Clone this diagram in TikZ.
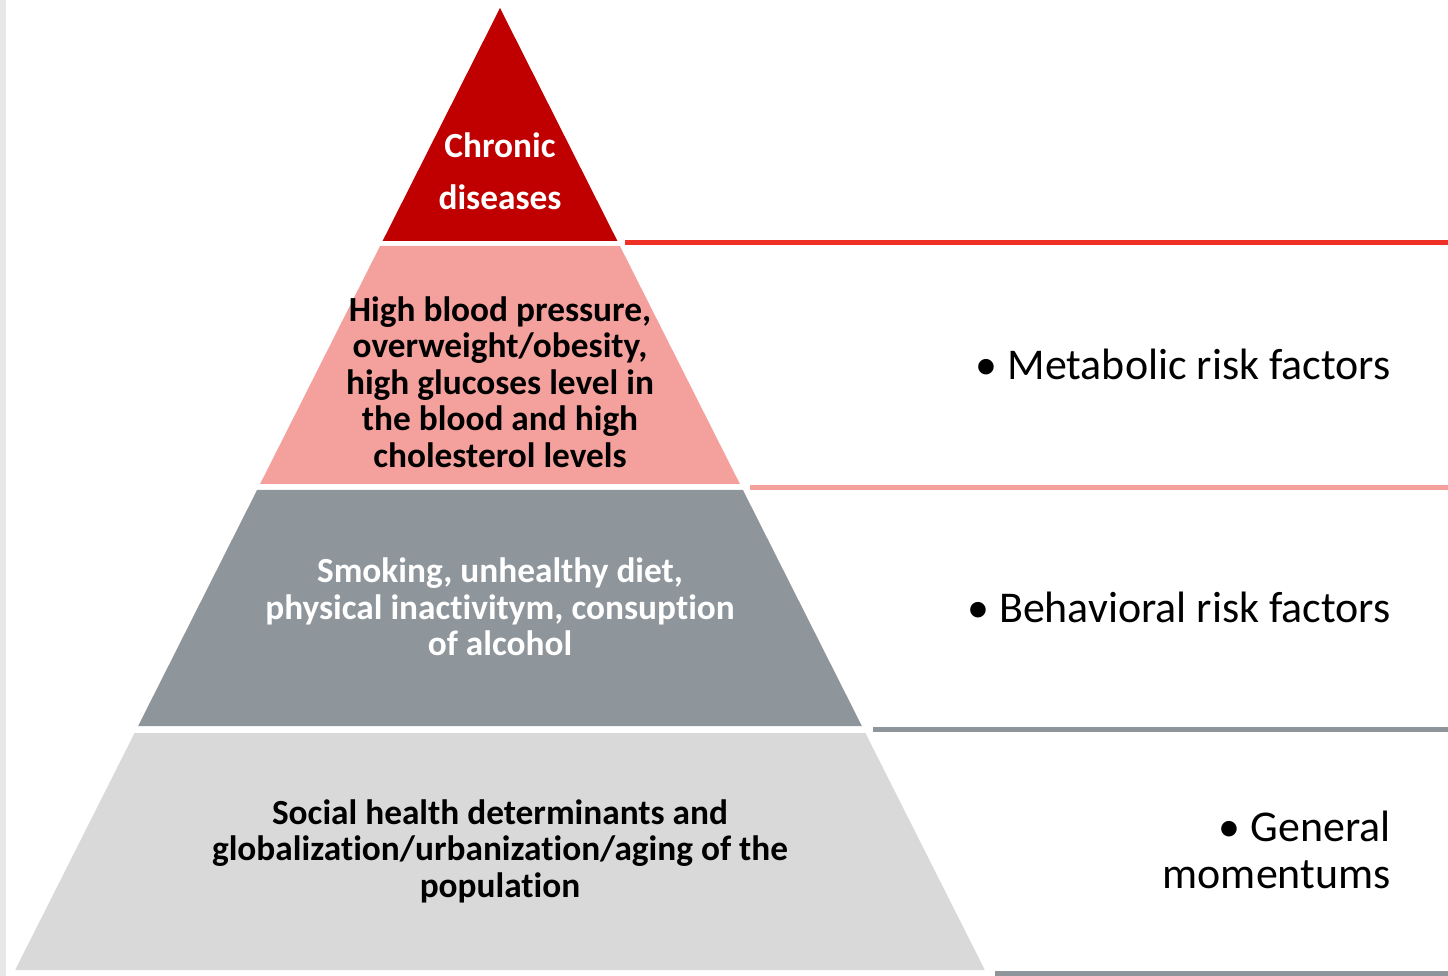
\documentclass[tikz,border=0pt]{standalone}
\usepackage{fontspec}
\setmainfont{Carlito}[Ligatures=NoCommon]

\definecolor{chronred}{HTML}{C00000}
\definecolor{rulered}{HTML}{EE3124}
\definecolor{metapink}{HTML}{F4A09C}
\definecolor{behavgray}{HTML}{8E959B}
\definecolor{socgray}{HTML}{D9D9D9}

\begin{document}
\begin{tikzpicture}[
  x=0.02cm, y=-0.02cm,
  lbl/.style={font=\bfseries\fontsize{20.1}{20.8}\selectfont, align=center, inner sep=0pt},
  side/.style={font=\fontsize{25}{27}\selectfont, align=right, anchor=east, inner sep=0pt},
  sep/.style={line width=0.1cm}
]
  \useasboundingbox (0,0) rectangle (1448,976);
  \fill[gray!18] (0,0) rectangle (6,976);

  % pyramid, apex at (500,8), half width grows 0.504 per unit
  \fill[chronred] (500,8) -- (617.4,241) -- (382.6,241) -- cycle;
  \foreach \yt/\yb/\col in {246/484/metapink, 490/726/behavgray, 733/970/socgray}{
    \pgfmathsetmacro\wt{0.504*(\yt-8)}
    \pgfmathsetmacro\wb{0.504*(\yb-8)}
    \fill[\col] (500-\wt,\yt) -- (500+\wt,\yt) -- (500+\wb,\yb) -- (500-\wb,\yb) -- cycle;
  }

  % level labels
  \node[lbl, text=white, font=\bfseries\fontsize{20.1}{29.5}\selectfont] (chronic) at (500,171) {Chronic\\diseases};
  \node[lbl] (metab) at (500,382) {High blood pressure,\\overweight/obesity,\\high glucoses level in\\the blood and high\\cholesterol levels};
  \node[lbl, text=white] (behav) at (500,607) {Smoking, unhealthy diet,\\physical inactivitym, consuption\\of alcohol};
  \node[lbl] (social) at (500,851) {Social health determinants and\\globalization/urbanization/aging of the\\population};

  % separators on the right
  \coordinate (r1) at (625,242.5);
  \coordinate (r2) at (750,487.5);
  \coordinate (r3) at (873,729.5);
  \coordinate (r4) at (995,973);
  \draw[sep, rulered] (r1) -- (r1 -| 1448,0);
  \draw[sep, metapink] (r2) -- (r2 -| 1448,0);
  \draw[sep, behavgray] (r3) -- (r3 -| 1448,0);
  \draw[sep, behavgray] (r4) -- (r4 -| 1448,0);

  % side notes
  \node[side] (metabside) at (1391,364) {• Metabolic risk factors};
  \node[side] (behavside) at (1391,607) {• Behavioral risk factors};
  \node[side] (genside) at (1391,850) {• General\\momentums};
\end{tikzpicture}
\end{document}
